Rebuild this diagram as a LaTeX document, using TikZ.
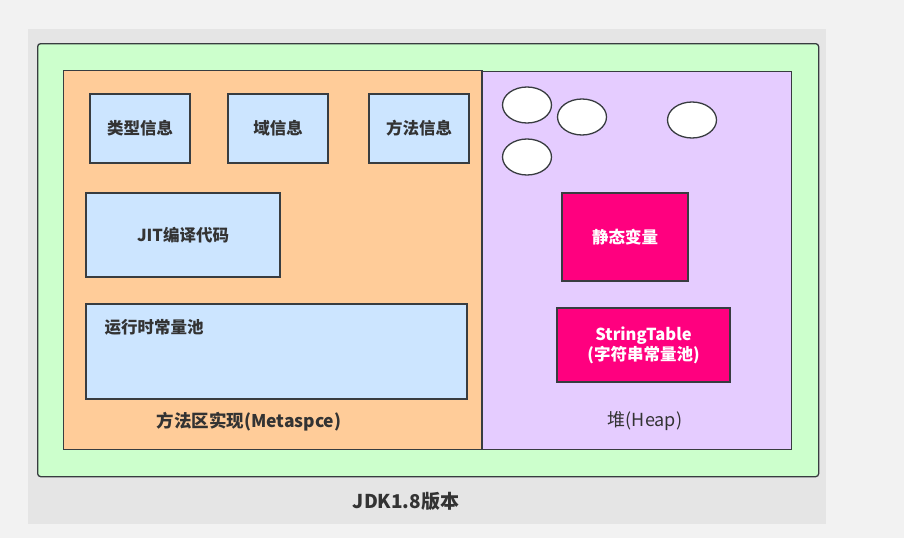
\documentclass[tikz,border=0pt]{standalone}
\usepackage{fontspec}
\setmainfont{Noto Sans CJK SC}
\usepackage{xcolor}
\usepackage{tikz}
\usetikzlibrary{shapes.geometric}
\definecolor{line_gray}{HTML}{383C40}
\definecolor{text_gray}{HTML}{333333}
\definecolor{jdk_green}{HTML}{CCFFCC}
\definecolor{meta_orange}{HTML}{FFCC99}
\definecolor{heap_purple}{HTML}{E5CCFF}
\definecolor{info_blue}{HTML}{CCE5FF}
\definecolor{static_pink}{HTML}{FF007F}
\tikzset{
    box/.style = {draw=line_gray, line width=1.3pt, inner sep=0pt},
    area/.style = {box, anchor=north west},
    info_node/.style = {box, fill=info_blue, text=text_gray, font=\bfseries\fontsize{16.5}{19}\selectfont},
    pink_node/.style = {box, fill=static_pink, text=white, align=center, font=\bfseries\fontsize{16.5}{20}\selectfont},
    obj_node/.style = {box, ellipse, fill=white, minimum width=49pt, minimum height=36pt},
    label/.style = {text=text_gray, font=\bfseries\fontsize{17.5}{20}\selectfont}
}
\begin{document}
\begin{tikzpicture}[x=1pt, y=-1pt]
    \useasboundingbox (0,0) rectangle (904,538);
    \fill[black!5] (0,0) rectangle (904,538);
    \fill[black!10] (28,29) rectangle (826,524);

    % outer JDK box
    \node[area, fill=jdk_green, rounded corners=3pt, minimum width=781pt, minimum height=433pt] (jdk) at (37,43) {};
    \node[area, fill=meta_orange, minimum width=418pt, minimum height=379pt] (meta) at (63,70) {};
    \node[area, fill=heap_purple, minimum width=310pt, minimum height=378pt] (heap) at (481,71) {};
    \draw[line_gray, line width=1.3pt] (meta.north east) -- (meta.south east);

    % method area contents
    \node[info_node, minimum width=100pt, minimum height=69pt] (type_info) at (140,128.5) {类型信息};
    \node[info_node, minimum width=100pt, minimum height=69pt] (field_info) at (278,128.5) {域信息};
    \node[info_node, minimum width=100pt, minimum height=69pt] (method_info) at (419,128.5) {方法信息};
    \node[info_node, minimum width=194pt, minimum height=84pt] (jit_code) at (183,235) {JIT编译代码};
    \node[info_node, minimum width=381pt, minimum height=95pt] (rt_pool) at (276.5,351.5) {};
    \node[info_node, draw=none, fill=none, anchor=west] (rt_pool_text) at (104,327) {运行时常量池};

    % heap contents
    \node[obj_node] (obj_a) at (527,105) {};
    \node[obj_node] (obj_b) at (582,117) {};
    \node[obj_node] (obj_c) at (692,120) {};
    \node[obj_node] (obj_d) at (527,157) {};
    \node[pink_node, minimum width=126pt, minimum height=88pt] (static_var) at (625,237) {静态变量};
    \node[pink_node, minimum width=173pt, minimum height=74pt] (string_table) at (643.5,345) {StringTable\\(字符串常量池)};

    % labels
    \node[label] (meta_label) at (249,422) {方法区实现(Metaspce)};
    \node[label, font=\fontsize{18}{20}\selectfont, text=black!80] (heap_label) at (645,421) {堆(Heap)};
    \node[label, font=\bfseries\fontsize{19}{22}\selectfont] (jdk_label) at (406,501) {JDK1.8版本};
\end{tikzpicture}
\end{document}
